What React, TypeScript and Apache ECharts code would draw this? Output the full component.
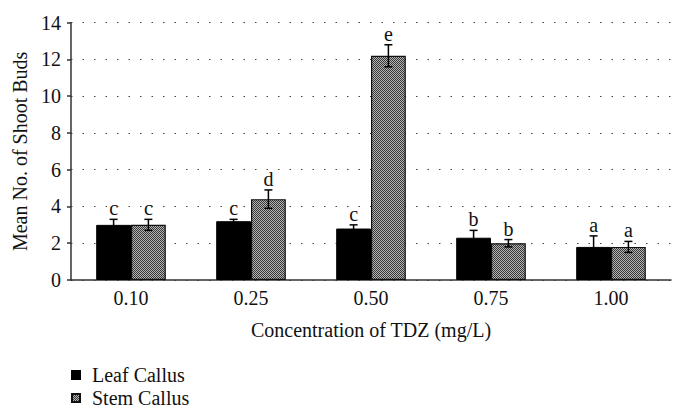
import React, { useEffect, useRef } from "react";
import * as echarts from "echarts";

const categories = ["0.10", "0.25", "0.50", "0.75", "1.00"];
const leafValues = [3.0, 3.2, 2.8, 2.3, 1.8];
const leafErrors = [0.3, 0.1, 0.2, 0.4, 0.6];
const leafLetters = ["c", "c", "c", "b", "a"];
const stemValues = [3.0, 4.4, 12.2, 2.0, 1.8];
const stemErrors = [0.3, 0.5, 0.6, 0.2, 0.3];
const stemLetters = ["c", "d", "e", "b", "a"];
const yTicks = [0, 2, 4, 6, 8, 10, 12, 14];

const FONT = "Liberation Serif";
const FS = 20;
const BAR_FRAC = 0.29;

function makePattern(): string {
  const c = document.createElement("canvas");
  c.width = 2;
  c.height = 2;
  const ctx = c.getContext("2d")!;
  ctx.fillStyle = "#b4b4b4";
  ctx.fillRect(0, 0, 2, 2);
  ctx.fillStyle = "#383838";
  ctx.fillRect(0, 0, 1, 1);
  ctx.fillRect(1, 1, 1, 1);
  return c.toDataURL();
}

function errSeries(values: number[], errors: number[], letters: string[], side: number) {
  return {
    type: "custom",
    silent: true,
    z: 5,
    data: values.map((v, i) => [i, v, errors[i]]),
    renderItem: (params: any, api: any) => {
      const idx = api.value(0);
      const v = api.value(1);
      const e = api.value(2);
      const band = api.size([1, 0])[0];
      const off = side * band * BAR_FRAC / 2;
      const top = api.coord([idx, v + e]);
      const bot = api.coord([idx, v - e]);
      const x = top[0] + off;
      const cap = 4;
      const st = { stroke: "#000", lineWidth: 1.5 };
      return {
        type: "group",
        children: [
          { type: "line", shape: { x1: x, y1: top[1], x2: x, y2: bot[1] }, style: st },
          { type: "line", shape: { x1: x - cap, y1: top[1], x2: x + cap, y2: top[1] }, style: st },
          { type: "line", shape: { x1: x - cap, y1: bot[1], x2: x + cap, y2: bot[1] }, style: st },
          {
            type: "text",
            x: x,
            y: top[1] - 1,
            style: {
              text: letters[idx],
              fill: "#111",
              font: `${FS}px "${FONT}"`,
              align: "center",
              verticalAlign: "bottom",
            },
          },
        ],
      };
    },
  };
}

export default function App() {
  const ref = useRef<HTMLDivElement>(null);
  useEffect(() => {
    if (!ref.current) return;
    const chart = echarts.init(ref.current, undefined, { renderer: "svg" });
    const pattern = { image: makePattern(), repeat: "repeat" };
    chart.setOption({
      animation: false,
      backgroundColor: "#fff",
      textStyle: { fontFamily: FONT },
      grid: { left: 71, right: 13, top: 22.7, bottom: 140 },
      legend: {
        orient: "vertical",
        left: 71,
        top: 365,
        padding: 0,
        itemWidth: 8,
        itemHeight: 8,
        itemGap: 3,
        icon: "rect",
        textStyle: { fontSize: FS, color: "#111", fontFamily: FONT, padding: [0, 0, 0, 7] },
        data: ["Leaf Callus", "Stem Callus"],
      },
      xAxis: {
        type: "category",
        data: categories,
        name: "Concentration of TDZ (mg/L)",
        nameLocation: "middle",
        nameGap: 40,
        nameTextStyle: { fontSize: FS, color: "#111", fontFamily: FONT },
        axisLine: { lineStyle: { color: "#333", width: 1.5 } },
        axisTick: { show: false },
        axisLabel: { fontSize: FS, color: "#111", margin: 8, fontFamily: FONT },
      },
      yAxis: {
        type: "value",
        min: 0,
        max: 14,
        interval: 2,
        name: "Mean No. of Shoot Buds",
        nameLocation: "middle",
        nameGap: 32,
        nameTextStyle: { fontSize: FS, color: "#111", fontFamily: FONT },
        axisLine: { show: true, lineStyle: { color: "#333", width: 1.5 } },
        axisTick: { show: true, length: 4, lineStyle: { color: "#333", width: 1.5 } },
        axisLabel: { fontSize: FS, color: "#111", margin: 10, fontFamily: FONT, formatter: (v: number) => (yTicks.includes(v) ? String(v) : "") },
        splitLine: { show: true, lineStyle: { color: "#444", width: 1, type: [1.5, 10] } },
      },
      series: [
        {
          name: "Leaf Callus",
          type: "bar",
          data: leafValues,
          barWidth: `${BAR_FRAC * 100}%`,
          barGap: "0%",
          itemStyle: { color: "#000", borderColor: "#000", borderWidth: 1 },
        },
        {
          name: "Stem Callus",
          type: "bar",
          data: stemValues,
          barWidth: `${BAR_FRAC * 100}%`,
          barGap: "0%",
          itemStyle: { color: pattern, borderColor: "#111", borderWidth: 1.2 },
        },
        errSeries(leafValues, leafErrors, leafLetters, -1),
        errSeries(stemValues, stemErrors, stemLetters, 1),
      ],
    });
    return () => chart.dispose();
  }, []);
  return <div ref={ref} style={{ position: "fixed", left: 0, top: 0, width: 684, height: 420 }} />;
}
